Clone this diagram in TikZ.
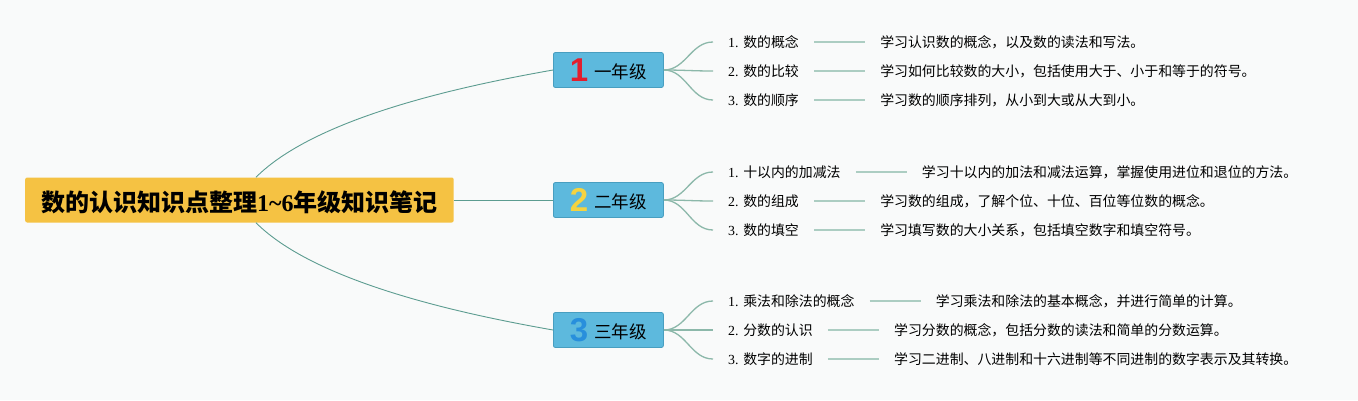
\documentclass[tikz,border=0pt]{standalone}
\usepackage{fontspec}
\setmainfont{Liberation Serif}
\newfontfamily\cjk{Noto Sans CJK SC}
\newfontfamily\numfont{Liberation Sans}
\usetikzlibrary{positioning}
\definecolor{bgcol}{RGB}{249,250,250}
\definecolor{rootcol}{RGB}{245,194,67}
\definecolor{gradecol}{RGB}{93,185,221}
\definecolor{gradeline}{RGB}{72,158,192}
\definecolor{trunk}{RGB}{92,156,144}
\definecolor{twig}{RGB}{140,184,170}
\definecolor{leafline}{RGB}{172,205,194}
\definecolor{numred}{RGB}{226,30,45}
\definecolor{numyellow}{RGB}{245,211,64}
\definecolor{numblue}{RGB}{40,143,220}
\newcommand\gnum[2]{{\numfont\bfseries\fontsize{33}{33}\selectfont\color{#1}#2}}
\newcommand\gtext[1]{\raisebox{2.5pt}{#1}}

\begin{document}
\begin{tikzpicture}[x=1pt, y=-1pt,
		root/.style={fill=rootcol, rounded corners=2pt, inner xsep=16pt, inner ysep=0pt, text height=23pt, text depth=1pt, minimum height=45pt, font=\cjk\bfseries\fontsize{24}{28}\selectfont, anchor=west},
		grade/.style={fill=gradecol, draw=gradeline, line width=0.8pt, rounded corners=2pt, inner sep=0pt, text height=23pt, text depth=1pt, minimum width=110pt, minimum height=35pt, font=\cjk\fontsize{17.5}{20}\selectfont, anchor=west},
		item/.style={inner xsep=15pt, inner ysep=0pt, text height=12pt, text depth=2pt, font=\fontsize{13.9}{16}\selectfont, anchor=west},
		detail/.style={item, font=\cjk\fontsize{13.9}{16}\selectfont},
		trunkline/.style={trunk, line width=0.9pt},
		twigline/.style={twig, line width=1.3pt},
		leaf/.style={leafline, line width=2pt}]
						\useasboundingbox (0, 0) rectangle (1358, 400);
						\fill[bgcol] (0, 0) rectangle (1358, 400);
						\node[root] (root) at (25, 200) {数的认识知识点整理{\rmfamily 1\textasciitilde 6}年级知识笔记};
						\node[grade] (g1) at (553, 70) {\gnum{numred}{1}\hspace{6pt}\gtext{一年级}};
						\node[grade] (g2) at (553, 200) {\gnum{numyellow}{2}\hspace{6pt}\gtext{二年级}};
						\node[grade] (g3) at (553, 330) {\gnum{numblue}{3}\hspace{6pt}\gtext{三年级}};
						\draw[trunkline] (root.54) to[out=45, in=190, looseness=0.7] (g1.west);
						\draw[trunkline] (root.east) -- (g2.west);
						\draw[trunkline] (root.-54) to[out=-45, in=170, looseness=0.7] (g3.west);

						\node[item] (i11) at (713, 42) {1. {\cjk 数的概念}};
						\node[item] (i12) at (713, 71) {2. {\cjk 数的比较}};
						\node[item] (i13) at (713, 100) {3. {\cjk 数的顺序}};
							\node[detail, right=51pt of i11] (d11) {学习认识数的概念，以及数的读法和写法。};
							\node[detail, right=51pt of i12] (d12) {学习如何比较数的大小，包括使用大于、小于和等于的符号。};
							\node[detail, right=51pt of i13] (d13) {学习数的顺序排列，从小到大或从大到小。};
						\draw[twigline] (g1.east) to[out=0, in=180] (i11.west);
						\draw[twigline] (g1.east) to[out=0, in=180] (i12.west);
						\draw[twigline] (g1.east) to[out=0, in=180] (i13.west);
						\draw[leaf] (i11) -- (d11);
						\draw[leaf] (i12) -- (d12);
						\draw[leaf] (i13) -- (d13);

						\node[item] (i21) at (713, 172) {1. {\cjk 十以内的加减法}};
						\node[item] (i22) at (713, 201) {2. {\cjk 数的组成}};
						\node[item] (i23) at (713, 230) {3. {\cjk 数的填空}};
							\node[detail, right=51pt of i21] (d21) {学习十以内的加法和减法运算，掌握使用进位和退位的方法。};
							\node[detail, right=51pt of i22] (d22) {学习数的组成，了解个位、十位、百位等位数的概念。};
							\node[detail, right=51pt of i23] (d23) {学习填写数的大小关系，包括填空数字和填空符号。};
						\draw[twigline] (g2.east) to[out=0, in=180] (i21.west);
						\draw[twigline] (g2.east) to[out=0, in=180] (i22.west);
						\draw[twigline] (g2.east) to[out=0, in=180] (i23.west);
						\draw[leaf] (i21) -- (d21);
						\draw[leaf] (i22) -- (d22);
						\draw[leaf] (i23) -- (d23);

						\node[item] (i31) at (713, 301) {1. {\cjk 乘法和除法的概念}};
						\node[item] (i32) at (713, 330) {2. {\cjk 分数的认识}};
						\node[item] (i33) at (713, 359) {3. {\cjk 数字的进制}};
							\node[detail, right=51pt of i31] (d31) {学习乘法和除法的基本概念，并进行简单的计算。};
							\node[detail, right=51pt of i32] (d32) {学习分数的概念，包括分数的读法和简单的分数运算。};
							\node[detail, right=51pt of i33] (d33) {学习二进制、八进制和十六进制等不同进制的数字表示及其转换。};
						\draw[twigline] (g3.east) to[out=0, in=180] (i31.west);
						\draw[twigline] (g3.east) to[out=0, in=180] (i32.west);
						\draw[twigline] (g3.east) to[out=0, in=180] (i33.west);
						\draw[leaf] (i31) -- (d31);
						\draw[leaf] (i32) -- (d32);
						\draw[leaf] (i33) -- (d33);
					\end{tikzpicture}
\end{document}
